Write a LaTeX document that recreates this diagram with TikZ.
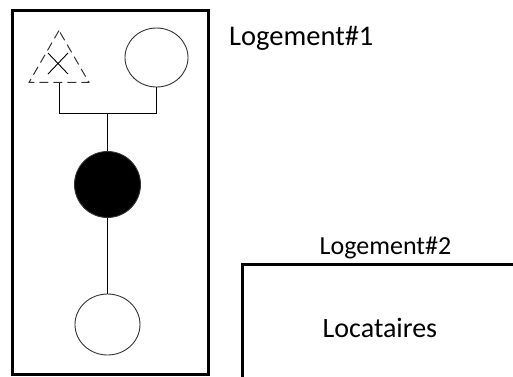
\documentclass[tikz,border=0pt]{standalone}
\usepackage{fontspec}
\setmainfont{Carlito}
\usetikzlibrary{shapes.geometric}
\begin{document}
\begin{tikzpicture}[x=1pt,y=-1pt,
  frame/.style={draw=black,line width=3pt},
  person/.style={draw=black!80,line width=0.9pt,inner sep=0pt},
  link/.style={draw=black,line width=0.9pt},
  lbl/.style={inner sep=0pt,anchor=base west,text=black}]
\useasboundingbox (0,0) rectangle (513,376);
\begin{scope}
\clip (0,0) rectangle (513,376);
% frames
\node[frame,minimum width=196pt,minimum height=364pt,inner sep=0pt] (box1) at (110.25,192.5) {};
\draw[frame] (242,380) -- (242,264.5) -- (520,264.5);
\coordinate (box2) at (380,320);
% persons
\node[person,regular polygon,regular polygon sides=3,minimum size=69pt,dash pattern=on 9pt off 5pt,line width=1pt] (tri) at (59,65) {};
\draw[link] (48,53) -- (68,74) (68,53) -- (48,74);
\node[person,ellipse,minimum width=63pt,minimum height=59pt] (c1) at (156.5,57.5) {};
\node[person,circle,fill=black,minimum size=66pt] (c2) at (107.5,184.5) {};
\node[person,ellipse,minimum width=65pt,minimum height=61pt] (c3) at (107.5,324.5) {};
% connectors
\coordinate (j) at (107.5,113);
\draw[link] (tri.south) |- (c1.south |- j) -- (c1.south);
\draw[link] (j) -- (c2.north);
\draw[link] (c2.south) -- (c3.north);
% labels
\node[lbl,font=\fontsize{28.5}{30}\selectfont] (l1) at (229,45) {Logement\#1};
\node[lbl,font=\fontsize{26}{28}\selectfont] (l2) at (319.5,254) {Logement\#2};
\node[lbl,font=\fontsize{28}{30}\selectfont] (l3) at (322.5,337) {Locataires};
\end{scope}
\end{tikzpicture}
\end{document}
